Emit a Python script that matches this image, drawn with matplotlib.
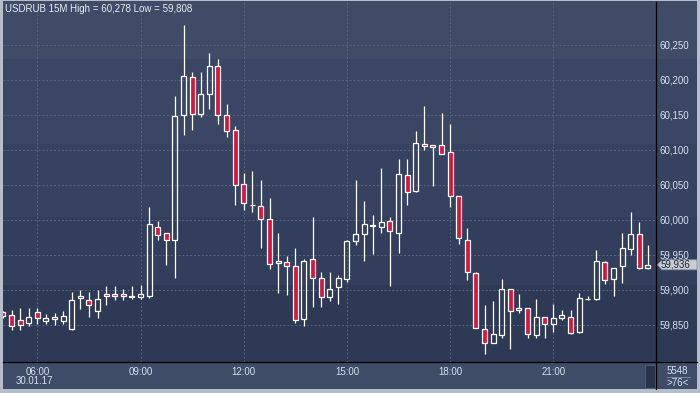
import numpy as np
import matplotlib
matplotlib.use("Agg")
import matplotlib.pyplot as plt
import matplotlib.ticker as mtick
from matplotlib.patches import Rectangle, Polygon
from matplotlib.lines import Line2D

# ── Data: USDRUB 15-minute candles, bar index 0 = 06:00 30.01.17 ────────────
bar_idx = np.arange(-4, 72)
opens = [59.868, 59.864, 59.857, 59.853, 59.869, 59.856, 59.859, 59.856, 59.844, 59.888,
         59.886, 59.870, 59.894, 59.894, 59.894, 59.890, 59.890, 59.892, 59.990, 59.982,
         59.971, 60.150, 60.204, 60.152, 60.180, 60.220, 60.150, 60.128, 60.051, 60.021,
         60.020, 60.002, 59.938, 59.940, 59.934, 59.859, 59.944, 59.917, 59.890, 59.904,
         59.915, 59.970, 59.980, 59.992, 59.990, 59.998, 59.981, 60.064, 60.041, 60.108,
         60.107, 60.107, 60.097, 60.034, 59.972, 59.924, 59.844, 59.824, 59.835, 59.902,
         59.871, 59.874, 59.835, 59.861, 59.851, 59.860, 59.862, 59.840, 59.887, 59.887,
         59.940, 59.915, 59.934, 59.958, 59.980, 59.932]
highs = [59.870, 59.872, 59.874, 59.874, 59.874, 59.865, 59.867, 59.870, 59.897, 59.900,
         59.897, 59.900, 59.905, 59.906, 59.901, 59.905, 59.907, 60.019, 59.999, 59.982,
         60.177, 60.278, 60.211, 60.211, 60.239, 60.230, 60.166, 60.134, 60.067, 60.070,
         60.057, 60.032, 59.981, 59.949, 59.960, 59.944, 60.004, 59.925, 59.925, 59.922,
         59.972, 60.057, 60.027, 60.007, 60.074, 60.004, 60.087, 60.087, 60.127, 60.163,
         60.107, 60.153, 60.137, 60.034, 59.988, 59.925, 59.878, 59.884, 59.915, 59.902,
         59.894, 59.874, 59.887, 59.862, 59.880, 59.871, 59.871, 59.895, 59.891, 59.957,
         59.941, 59.932, 59.982, 60.012, 59.997, 59.964]
lows = [59.860, 59.843, 59.843, 59.848, 59.851, 59.852, 59.850, 59.852, 59.843, 59.873,
        59.861, 59.860, 59.879, 59.885, 59.886, 59.887, 59.887, 59.889, 59.971, 59.936,
        59.917, 60.122, 60.129, 60.147, 60.159, 60.137, 60.118, 60.021, 60.014, 60.011,
        59.960, 59.930, 59.895, 59.893, 59.853, 59.848, 59.876, 59.876, 59.884, 59.880,
        59.911, 59.964, 59.942, 59.952, 59.981, 59.906, 59.953, 60.022, 60.040, 60.100,
        60.049, 60.094, 60.019, 59.965, 59.914, 59.845, 59.808, 59.824, 59.832, 59.815,
        59.867, 59.832, 59.832, 59.831, 59.840, 59.857, 59.837, 59.839, 59.885, 59.886,
        59.908, 59.891, 59.910, 59.950, 59.930, 59.930]
closes = [59.863, 59.849, 59.850, 59.861, 59.860, 59.860, 59.861, 59.863, 59.885, 59.892,
          59.878, 59.887, 59.891, 59.891, 59.891, 59.891, 59.894, 59.994, 59.978, 59.972,
          60.149, 60.205, 60.152, 60.180, 60.220, 60.150, 60.127, 60.050, 60.024, 60.022,
          60.001, 59.937, 59.941, 59.934, 59.857, 59.942, 59.917, 59.890, 59.902, 59.917,
          59.970, 59.980, 59.994, 59.993, 59.997, 59.984, 60.065, 60.040, 60.110, 60.105,
          60.104, 60.094, 60.034, 59.974, 59.925, 59.845, 59.824, 59.837, 59.902, 59.870,
          59.874, 59.837, 59.862, 59.852, 59.860, 59.864, 59.838, 59.888, 59.887, 59.941,
          59.914, 59.932, 59.960, 59.980, 59.931, 59.936]

tick_pos = [0, 12, 24, 36, 48, 60]
tick_labels = ["06:00", "09:00", "12:00", "15:00", "18:00", "21:00"]
date_label = "30.01.17"
price_ticks = [59.85, 59.90, 59.95, 60.00, 60.05, 60.10, 60.15, 60.20, 60.25]
symbol = "USDRUB 15M"
volume_label = "5548"

# ── Layout helpers (pixel -> figure fraction) ──────────────────────────────
W, H = 700, 393
def fx(x): return x / W
def fy(y): return 1 - y / H

FRAME   = "#b6becb"
PANEL   = "#3e4c68"
TXT     = "#d6e1f1"
GRID    = "#56637e"
RED     = "#dc143c"

plt.rcParams["font.family"] = ["Liberation Sans", "DejaVu Sans"]
fig = plt.figure(figsize=(W / 100, H / 100), dpi=100, facecolor=FRAME)

# banded background behind plot + right scale
bands = [(1, 59, "#3f4b67"), (59, 144, "#3a4663"), (144, 217, "#36425f"),
         (217, 285, "#323e5b"), (285, 363, "#2d3955")]
for y0, y1, c in bands:
    fig.add_artist(Rectangle((fx(3), fy(y1)), fx(697) - fx(3), fy(y0) - fy(y1),
                             transform=fig.transFigure, color=c, zorder=-5, lw=0))
# bottom time panel
fig.add_artist(Rectangle((fx(3), fy(389)), fx(697) - fx(3), fy(363) - fy(389),
                         transform=fig.transFigure, color=PANEL, zorder=-5, lw=0))
fig.add_artist(Rectangle((fx(645), fy(388)), fx(655) - fx(645), fy(365) - fy(388),
                         transform=fig.transFigure, facecolor="#27324b",
                         edgecolor="#4c5a76", lw=0.8, zorder=-4))

ax = fig.add_axes([fx(3), fy(362), fx(656) - fx(3), fy(2) - fy(362)])
ax.set_facecolor("none")
ax.set_xlim(-3.99, 71.94)
ax.set_ylim(59.7971, 60.3114)

# ── Candles ─────────────────────────────────────────────────────────────────
o = np.array(opens); h = np.array(highs); l = np.array(lows); c = np.array(closes)
top = np.maximum(o, c); bot = np.minimum(o, c)
down = c < o
ax.vlines(bar_idx, top, h, color="white", lw=0.9, zorder=3)
ax.vlines(bar_idx, l, bot, color="white", lw=0.9, zorder=3)
ax.bar(bar_idx, c - o, bottom=o, width=0.6,
       color=np.where(down, RED, "none").tolist(),
       edgecolor="white", linewidth=0.9, zorder=4)

# ── Axes styling ────────────────────────────────────────────────────────────
for s in ("top", "left"):
    ax.spines[s].set_visible(False)
for s in ("right", "bottom"):
    ax.spines[s].set_color("black")
    ax.spines[s].set_linewidth(0.9)

ax.yaxis.tick_right()
ax.set_yticks(price_ticks)
ax.yaxis.set_major_formatter(mtick.FuncFormatter(lambda v, _: f"{v:.3f}".replace(".", ",")))
ax.set_xticks(tick_pos)
ax.set_xticklabels(tick_labels)
ax.tick_params(axis="y", length=0, pad=2.2, labelsize=7, labelcolor=TXT)
ax.tick_params(axis="x", length=0, pad=3.5, labelsize=7, labelcolor=TXT)
ax.grid(True, color=GRID, linestyle=(0, (2, 2)), linewidth=0.7)
ax.set_axisbelow(True)

# separators extending into the side/bottom panels
fig.add_artist(Line2D([fx(656), fx(697)], [fy(362), fy(362)], color="black", lw=0.9))
fig.add_artist(Line2D([fx(656), fx(656)], [fy(362), fy(389)], color="black", lw=0.9))

# ── Texts ───────────────────────────────────────────────────────────────────
hi_txt = f"{max(highs):.3f}".replace(".", ",")
lo_txt = f"{min(lows):.3f}".replace(".", ",")
fig.text(fx(5), fy(8.5), f"{symbol} High = {hi_txt} Low = {lo_txt}",
         ha="left", va="center", fontsize=7, color="#e8eef7")
fig.text(fx(34), fy(381.5), date_label, ha="center", va="center", fontsize=7, color=TXT)
fig.text(fx(677.5), fy(370.5), volume_label, ha="center", va="center", fontsize=7, color=TXT)
fig.add_artist(Line2D([fx(667), fx(690)], [fy(376.5), fy(376.5)], color="#7f8fa8", lw=0.6))
fig.text(fx(677.5), fy(383.5), f">{len(closes)}<", ha="center", va="center",
         fontsize=7, color=TXT)

# last-price tag on the scale
yc_disp = ax.transData.transform((0, closes[-1]))[1]
yc = H - yc_disp
tag = [(657.5, yc), (662, yc - 5), (697, yc - 5), (697, yc + 5), (662, yc + 5)]
fig.add_artist(Polygon([(fx(px), fy(py)) for px, py in tag], closed=True,
                       transform=fig.transFigure, facecolor="#c9cdd4",
                       edgecolor="#8a92a0", lw=0.6, zorder=5))
fig.text(fx(661), fy(yc), f"{closes[-1]:.3f}".replace(".", ","), ha="left", va="center",
         fontsize=7, color="#1d2434", zorder=6)

fig.savefig("out.png", dpi=100, facecolor=FRAME)
